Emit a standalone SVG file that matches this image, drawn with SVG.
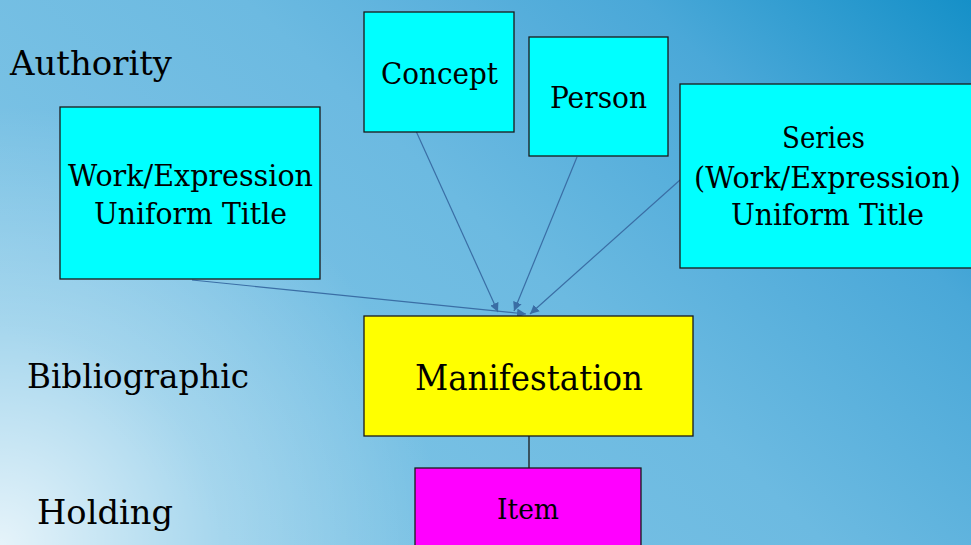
<svg xmlns="http://www.w3.org/2000/svg" width="971" height="545" viewBox="0 0 971 545">
<defs>
<linearGradient id="bg" x1="0" y1="0.6" x2="1" y2="0">
<stop offset="0" stop-color="#80c5e6"/>
<stop offset="0.45" stop-color="#6cbae1"/>
<stop offset="0.75" stop-color="#4aa8d8"/>
<stop offset="1" stop-color="#1590c8"/>
</linearGradient>
<radialGradient id="glow" cx="0" cy="545" r="440" gradientUnits="userSpaceOnUse">
<stop offset="0" stop-color="#ffffff" stop-opacity="0.8"/>
<stop offset="0.5" stop-color="#ffffff" stop-opacity="0.3"/>
<stop offset="1" stop-color="#ffffff" stop-opacity="0"/>
</radialGradient>
<marker id="ah" viewBox="0 0 10 10" refX="10" refY="5" markerWidth="9" markerHeight="9" markerUnits="userSpaceOnUse" orient="auto">
<path d="M0,0 L10,5 L0,10 z" fill="#3a6ea5"/>
</marker>
<style>
.lbl{font-family:"DejaVu Serif","Liberation Serif",serif;fill:#000;}
.box{stroke:#1a1a1a;stroke-width:1.3;}
.cy{fill:#00ffff;}
.conn{stroke:#3a6ea5;stroke-width:1.2;fill:none;marker-end:url(#ah);}
</style>
</defs>
<rect width="971" height="545" fill="url(#bg)"/>
<rect width="971" height="545" fill="url(#glow)"/>

<text class="lbl" x="10" y="75" font-size="34" textLength="162" lengthAdjust="spacingAndGlyphs">Authority</text>
<text class="lbl" x="27" y="388" font-size="34" textLength="222" lengthAdjust="spacingAndGlyphs">Bibliographic</text>
<text class="lbl" x="37" y="524" font-size="34" textLength="136" lengthAdjust="spacingAndGlyphs">Holding</text>

<g id="connectors">
<line class="conn" x1="192" y1="280" x2="526" y2="314"/>
<line class="conn" x1="416" y1="131" x2="498" y2="312"/>
<line class="conn" x1="577" y1="157" x2="514" y2="311"/>
<line class="conn" x1="680" y1="180" x2="530" y2="314"/>
<line x1="529" y1="436" x2="529" y2="468" stroke="#1a1a1a" stroke-width="1.3"/>
</g>

<g id="concept">
<rect class="box cy" x="364" y="12" width="150" height="120"/>
<text class="lbl" x="439.5" y="84" font-size="29" text-anchor="middle" textLength="117" lengthAdjust="spacingAndGlyphs">Concept</text>
</g>
<g id="person">
<rect class="box cy" x="529" y="37" width="139" height="119"/>
<text class="lbl" x="598.5" y="108" font-size="29" text-anchor="middle" textLength="97" lengthAdjust="spacingAndGlyphs">Person</text>
</g>
<g id="series">
<rect class="box cy" x="680" y="84" width="295" height="184"/>
<text class="lbl" x="823.5" y="148" font-size="29" text-anchor="middle" textLength="83" lengthAdjust="spacingAndGlyphs">Series</text>
<text class="lbl" x="827.5" y="188" font-size="29" text-anchor="middle" textLength="267" lengthAdjust="spacingAndGlyphs">(Work/Expression)</text>
<text class="lbl" x="827.5" y="225" font-size="29" text-anchor="middle" textLength="193" lengthAdjust="spacingAndGlyphs">Uniform Title</text>
</g>
<g id="work">
<rect class="box cy" x="60" y="107" width="260" height="172"/>
<text class="lbl" x="190.5" y="186" font-size="29" text-anchor="middle" textLength="245" lengthAdjust="spacingAndGlyphs">Work/Expression</text>
<text class="lbl" x="190.5" y="224" font-size="29" text-anchor="middle" textLength="193" lengthAdjust="spacingAndGlyphs">Uniform Title</text>
</g>
<g id="manifestation">
<rect class="box" x="364" y="316" width="329" height="120" fill="#ffff00"/>
<text class="lbl" x="529" y="390" font-size="36" text-anchor="middle" textLength="228" lengthAdjust="spacingAndGlyphs">Manifestation</text>
</g>
<g id="item">
<rect class="box" x="415" y="468" width="226" height="82" fill="#ff00ff"/>
<text class="lbl" x="528" y="519" font-size="28" text-anchor="middle" textLength="62" lengthAdjust="spacingAndGlyphs">Item</text>
</g>
</svg>
